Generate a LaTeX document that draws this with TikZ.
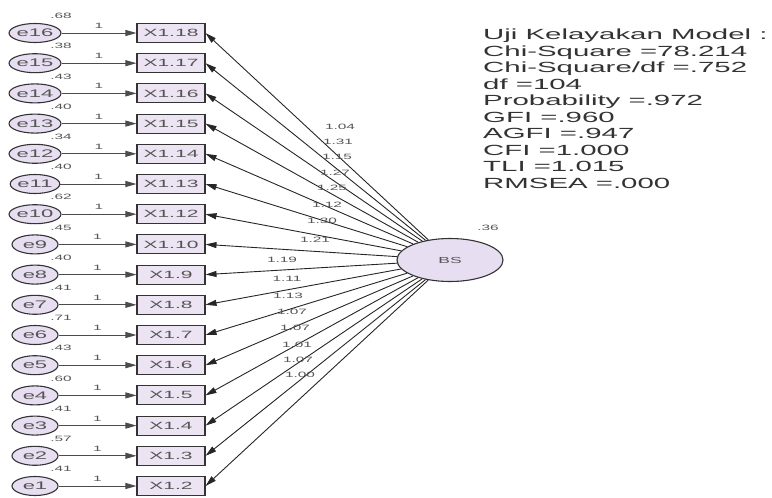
\documentclass[tikz,border=0pt]{standalone}
\usepackage{fontspec}
\setmainfont{Liberation Sans}[FakeStretch=2]
\usetikzlibrary{shapes.geometric, arrows.meta}

\definecolor{boxfill}{HTML}{ECE4F3}
\definecolor{ellfill}{HTML}{E7DEF1}
\definecolor{txtgray}{HTML}{555555}
\definecolor{statgray}{HTML}{333333}

\begin{document}
\begin{tikzpicture}[x=1pt, y=-1pt,
        errnode/.style={ellipse, draw=black!80, line width=1.1pt, fill=ellfill, minimum width=46pt, minimum height=19pt, inner sep=0pt, text=txtgray, font=\fontsize{11}{12}\selectfont},
        indbox/.style={rectangle, draw=black!80, line width=1.1pt, fill=boxfill, minimum width=68pt, minimum height=19pt, inner sep=0pt, text=txtgray, font=\fontsize{10.5}{12}\selectfont},
        latnode/.style={ellipse, draw=black!80, line width=1.1pt, fill=ellfill, minimum width=106pt, minimum height=43pt, inner sep=0pt, text=txtgray, font=\fontsize{8.75}{10}\selectfont},
        smalllbl/.style={inner sep=0pt, text=txtgray, font=\fontsize{7.7}{9}\selectfont},
        errarrow/.style={draw=black!70, line width=0.9pt, -{Triangle[length=11pt, width=6pt]}},
        loadarrow/.style={draw=black!85, line width=0.9pt, -{Triangle[length=11pt, width=6pt]}}]
        \useasboundingbox (0,0) rectangle (772,498);

        % Latent variable
        \node[latnode] (BS) at (450,260) {BS};
        \node[smalllbl] (BSvar) at (488,228) {.36};

        % Indicators, errors and loadings
        \foreach \en/\xl/\v/\l/\lx/\ly [count=\i from 0] in {
                16/X1.18/68/1.04/340/127, 15/X1.17/38/1.31/338/142,
                14/X1.16/43/1.15/337/157, 13/X1.15/40/1.27/335/173,
                12/X1.14/34/1.25/332/188, 11/X1.13/40/1.12/327/205,
                10/X1.12/62/1.30/322/221, 9/X1.10/45/1.21/315/240,
                8/X1.9/40/1.19/282/260, 7/X1.8/41/1.11/287/279,
                6/X1.7/71/1.13/288/296, 5/X1.6/43/1.07/292/312,
                4/X1.5/60/1.07/295/328, 3/X1.4/41/1.01/297/345,
                2/X1.3/57/1.07/298/360, 1/X1.2/41/1.00/300/375}{
            \pgfmathsetmacro{\ry}{33+\i*30.2}
            \node[errnode] (e\en) at (35,\ry) {e\en};
            \node[indbox] (x\en) at (171,\ry) {\xl};
            \node[smalllbl] (v\en) at (61,\ry-17) {.\v};
            \draw[errarrow] (e\en) -- (x\en) node[smalllbl, midway, above=4pt] {1};
            \draw[loadarrow] (BS) -- (x\en.east);
            \node[smalllbl] (l\en) at (\lx,\ly) {\l};
        }

        % Fit statistics
        \node[anchor=north west, inner sep=0pt, align=left, text=statgray, font=\fontsize{14.7}{16.5}\selectfont] (fit) at (483,29) {Uji Kelayakan Model :\\Chi-Square =78.214\\Chi-Square/df =.752\\df =104\\Probability =.972\\GFI =.960\\AGFI =.947\\CFI =1.000\\TLI =1.015\\RMSEA =.000};
\end{tikzpicture}
\end{document}
